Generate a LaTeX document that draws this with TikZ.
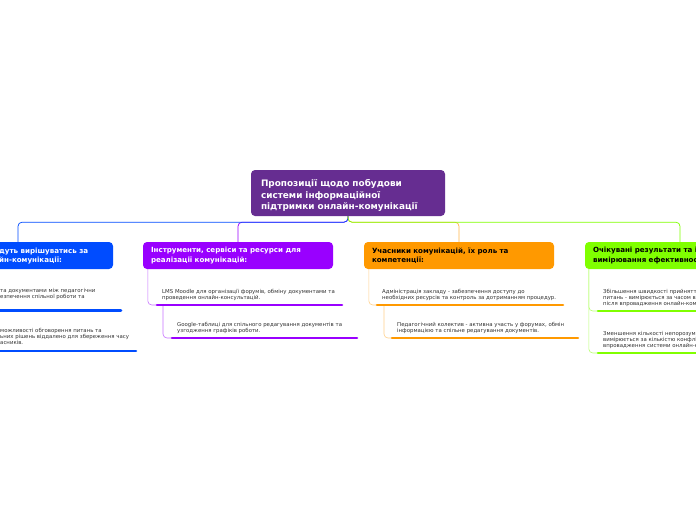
\documentclass[tikz,border=0pt]{standalone}
\usepackage{fontspec}
\setmainfont{DejaVu Sans}
\definecolor{rootc}{RGB}{102,45,145}
\definecolor{bluc}{RGB}{0,76,255}
\definecolor{purc}{RGB}{153,0,255}
\definecolor{orac}{RGB}{255,153,0}
\definecolor{grec}{RGB}{128,255,0}
\definecolor{leaftxt}{gray}{0.2}
\tikzset{
  root/.style={rectangle,rounded corners=4pt,fill=rootc,text=white,minimum width=194pt,minimum height=46pt,
    text width=174pt,inner xsep=10pt,align=left,font=\fontsize{8.9}{11.5}\selectfont\bfseries,
    execute at begin node={\rule{0pt}{12.5pt}}},
  head/.style={rectangle,rounded corners=4pt,minimum width=190pt,minimum height=27pt,text width=174pt,
    inner xsep=8pt,align=left,font=\fontsize{7.1}{9.5}\selectfont\bfseries},
  headtxt/.style={anchor=west,inner sep=0pt,align=left,font=\fontsize{7.1}{9.5}\selectfont\bfseries},
  leaf/.style={anchor=base west,inner sep=0pt,align=left,font=\fontsize{5.4}{6}\selectfont,text=leaftxt},
  uline/.style={line width=2.6pt,line cap=round},
  conn/.style={line width=0.7pt,rounded corners=4pt},
  link/.style={line width=0.6pt,rounded corners=4pt},
}

\begin{document}
\begin{tikzpicture}[x=1pt,y=-1pt]
  \useasboundingbox (0,0) rectangle (696,520);
  \clip (0,0) rectangle (696,520);
  \fill[white] (0,0) rectangle (696,520);
  % main topic and headings
  \node[root] (root) at (348,193) {Пропозиції щодо побудови\\системи інформаційної\\підтримки онлайн-комунікації};
  \node[head,fill=bluc] (blu) at (18,255.5) {};
  \node[headtxt,text=white] (blut) at (-1,256) {дуть вирішуватись за\\йн-комунікації:};
  \node[head,fill=purc,text=white] (pur) at (238,255.5) {Інструменти, сервіси та ресурси для\\реалізації комунікацій:};
  \node[head,fill=orac] (ora) at (459,255.5) {Учасники комунікацій, їх роль та\\компетенції:};
  \node[head,fill=grec] (gre) at (680,255.5) {Очікувані результати та і\\вимірювання ефективнос};
  \draw[conn,purc] (root.south) -- ++(0,6) -| (pur.north);
  \draw[conn,orac!70] (root.south) -- ++(0,6) -| (ora.north);
  \draw[conn,bluc] (root.south) -- ++(0,6) -| (blu.north);
  \draw[conn,grec] (root.south) -- ++(0,6) -| (gre.north);
  % blue leaves
  \coordinate (b1) at (-63,310.7);
  \coordinate (b2) at (-48,351);
  \node[leaf] (b1t) at (0,298.7) {та документами між педагогічни\\езпечення спільної роботи та};
  \node[leaf] (b2t) at (0,344.5) {можливості обговорення питань та\\ьних рішень віддалено для збереження часу\\асників.};
  \draw[link,bluc!50] ([xshift=5pt]blu.south west) |- (b1);
  \draw[link,bluc!50] ([xshift=6pt]b1) |- (b2);
  \draw[uline,bluc] (b1) -- ++(184,0);
  \draw[uline,bluc] (b2) -- ++(184,0);
  % purple leaves
  \coordinate (p1) at (157,305);
  \coordinate (p2) at (172,338);
  \node[leaf] (p1t) at ([xshift=5pt,yshift=6pt]p1) {LMS Moodle для організації форумів, обміну документами та\\проведення онлайн-консультацій.};
  \node[leaf] (p2t) at ([xshift=5pt,yshift=6pt]p2) {Google-таблиці для спільного редагування документів та\\узгодження графіків роботи.};
  \draw[link,purc!55] ([xshift=5pt]pur.south west) |- (p1);
  \draw[link,purc!55] ([xshift=6pt]p1) |- (p2);
  \draw[uline,purc] (p1) -- ++(185,0);
  \draw[uline,purc] (p2) -- ++(185,0);
  % orange leaves
  \coordinate (o1) at (377,305);
  \coordinate (o2) at (392,338);
  \node[leaf] (o1t) at ([xshift=5pt,yshift=6pt]o1) {Адміністрація закладу - забезпечення доступу до\\необхідних ресурсів та контроль за дотриманням процедур.};
  \node[leaf] (o2t) at ([xshift=5pt,yshift=6pt]o2) {Педагогічний колектив - активна участь у форумах, обмін\\інформацією та спільне редагування документів.};
  \draw[link,orac!45] ([xshift=5pt]ora.south west) |- (o1);
  \draw[link,orac!45] ([xshift=7pt]o1) |- (o2);
  \draw[uline,orac] (o1) -- ++(186,0);
  \draw[uline,orac] (o2) -- ++(186,0);
  % green leaves
  \coordinate (g1) at (598,311);
  \coordinate (g2) at (598,353);
  \node[leaf] (g1t) at ([xshift=5pt,yshift=6pt]g1) {Збільшення швидкості прийнятт\\питань - вимірюється за часом в\\після впровадження онлайн-ком};
  \node[leaf] (g2t) at ([xshift=5pt,yshift=6pt]g2) {Зменшення кількості непорозумі\\вимірюється за кількістю конфлі\\впровадження системи онлайн-к};
  \draw[link,grec!55] ([xshift=4pt]gre.south west) |- (g1);
  \draw[link,grec!55] ([xshift=4pt]gre.south west) |- (g2);
  \draw[uline,grec] (g1) -- ++(186,0);
  \draw[uline,grec] (g2) -- ++(186,0);
\end{tikzpicture}
\end{document}
